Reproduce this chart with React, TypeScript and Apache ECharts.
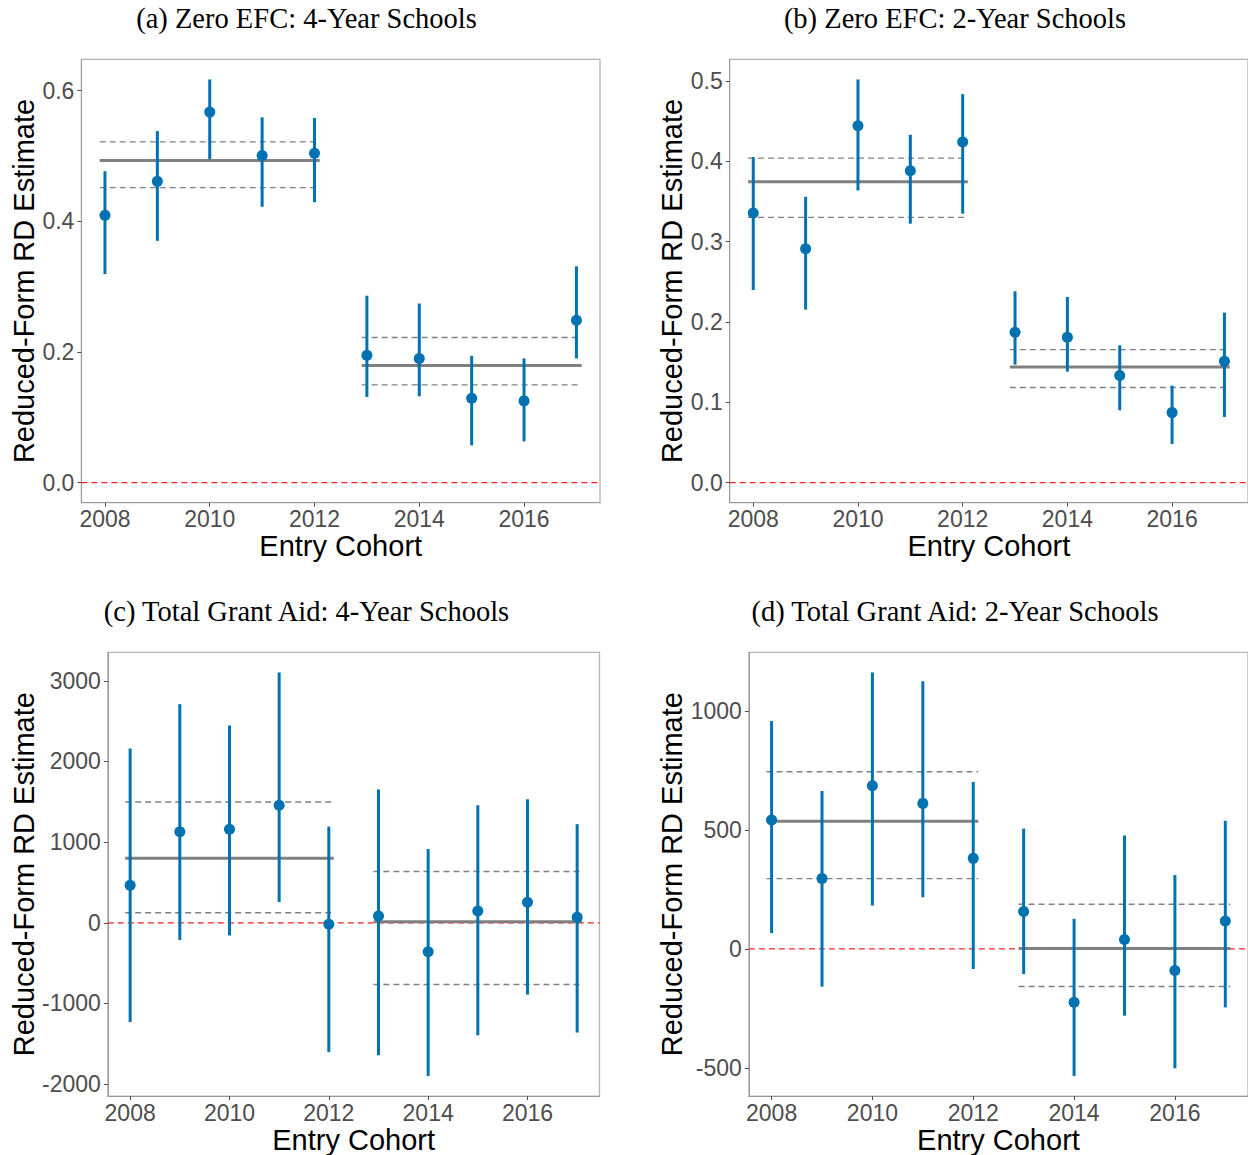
import React, { useEffect, useRef } from "react";
import * as echarts from "echarts";

const years = [2008, 2009, 2010, 2011, 2012, 2013, 2014, 2015, 2016, 2017];
const xTicks = [2008, 2010, 2012, 2014, 2016];
const segStart = [2007.9, 2012.9];
const segEnd = [2012.1, 2017.1];

const titles = [
  "(a) Zero EFC: 4-Year Schools",
  "(b) Zero EFC: 2-Year Schools",
  "(c) Total Grant Aid: 4-Year Schools",
  "(d) Total Grant Aid: 2-Year Schools",
];

// Panel (a)
const aEst = [0.409, 0.461, 0.567, 0.5005, 0.504, 0.195, 0.19, 0.129, 0.125, 0.2485];
const aLo = [0.319, 0.37, 0.495, 0.422, 0.429, 0.131, 0.132, 0.057, 0.063, 0.19];
const aHi = [0.4765, 0.538, 0.617, 0.559, 0.558, 0.286, 0.274, 0.194, 0.19, 0.331];
const aPool = [0.493, 0.179];
const aPoolLo = [0.4515, 0.1495];
const aPoolHi = [0.5214, 0.222];
const aTicks = [0, 0.2, 0.4, 0.6];

// Panel (b)
const bEst = [0.3357, 0.2913, 0.4444, 0.3884, 0.4241, 0.1871, 0.1809, 0.1332, 0.0871, 0.151];
const bLo = [0.2398, 0.2154, 0.3639, 0.3224, 0.3349, 0.1469, 0.1382, 0.09, 0.0481, 0.0817];
const bHi = [0.4054, 0.356, 0.5021, 0.4332, 0.4838, 0.2382, 0.2311, 0.171, 0.1207, 0.2116];
const bPool = [0.3747, 0.144];
const bPoolLo = [0.3303, 0.1183];
const bPoolHi = [0.4041, 0.1656];
const bTicks = [0, 0.1, 0.2, 0.3, 0.4, 0.5];

// Panel (c)
const cEst = [466, 1130, 1160, 1457, -17, 85, -360, 145, 256, 70];
const cLo = [-1230, -212, -157, 258, -1603, -1642, -1898, -1395, -890, -1360];
const cHi = [2162, 2710, 2445, 3103, 1193, 1653, 914, 1457, 1531, 1223];
const cPool = [801, 12];
const cPoolLo = [124, -764];
const cPoolHi = [1498, 636];
const cTicks = [-2000, -1000, 0, 1000, 2000, 3000];

// Panel (d)
const dEst = [541, 295, 685, 611, 380, 157, -224, 39, -91, 117];
const dLo = [66, -159, 182, 217, -85, -106, -534, -281, -502, -246];
const dHi = [957, 663, 1161, 1124, 701, 505, 126, 476, 310, 538];
const dPool = [536, 1];
const dPoolLo = [295, -158];
const dPoolHi = [744, 187];
const dTicks = [-500, 0, 500, 1000];

const BLUE = "#0072B2";
const XMIN = 2007.55;
const XMAX = 2017.45;

const panels = [
  { est: aEst, lo: aLo, hi: aHi, pool: aPool, pLo: aPoolLo, pHi: aPoolHi, ticks: aTicks, dec: 1,
    grid: { left: 81.4, top: 59.3, width: 518.6, height: 443.4 }, nameGap: 42, titleX: 306.5, titleY: 18 },
  { est: bEst, lo: bLo, hi: bHi, pool: bPool, pLo: bPoolLo, pHi: bPoolHi, ticks: bTicks, dec: 1,
    grid: { left: 729.7, top: 59.3, width: 519.6, height: 443.4 }, nameGap: 43, titleX: 955, titleY: 18 },
  { est: cEst, lo: cLo, hi: cHi, pool: cPool, pLo: cPoolLo, pHi: cPoolHi, ticks: cTicks, dec: 0,
    grid: { left: 107.8, top: 652.3, width: 491.7, height: 444.4 }, nameGap: 68, titleX: 306.5, titleY: 611 },
  { est: dEst, lo: dLo, hi: dHi, pool: dPool, pLo: dPoolLo, pHi: dPoolHi, ticks: dTicks, dec: 0,
    grid: { left: 748.9, top: 652.3, width: 501, height: 444.4 }, nameGap: 62, titleX: 955, titleY: 611 },
];

export default function App() {
  const ref = useRef<HTMLDivElement>(null);
  useEffect(() => {
    if (!ref.current) return;
    const chart = echarts.init(ref.current, null, { renderer: "svg" });
    const grids: any[] = [];
    const xAxes: any[] = [];
    const yAxes: any[] = [];
    const series: any[] = [];
    const graphics: any[] = [];

    panels.forEach((p, i) => {
      const ymin = Math.min(0, ...p.lo);
      const ymax = Math.max(0, ...p.hi);
      const pad = 0.05 * (ymax - ymin);
      grids.push({
        ...p.grid,
        show: true,
        borderColor: "#b3b3b3",
        borderWidth: 1.3,
        backgroundColor: "#ffffff",
        containLabel: false,
      });
      xAxes.push({
        type: "value",
        gridIndex: i,
        min: XMIN,
        max: XMAX,
        name: "Entry Cohort",
        nameLocation: "middle",
        nameGap: 28,
        nameTextStyle: { fontFamily: "Liberation Sans", fontSize: 29, color: "#000000" },
        splitLine: { show: false },
        axisLine: { show: true, onZero: false, lineStyle: { color: "#999999", width: 1 } },
        axisTick: { show: true, length: 4, customValues: xTicks, lineStyle: { color: "#4d4d4d" } },
        axisLabel: {
          customValues: xTicks,
          margin: 5,
          fontFamily: "Liberation Sans",
          fontSize: 23,
          color: "#4d4d4d",
          formatter: (v: number) => String(v),
        },
      });
      yAxes.push({
        type: "value",
        gridIndex: i,
        min: ymin - pad,
        max: ymax + pad,
        name: "Reduced-Form RD Estimate",
        nameLocation: "middle",
        nameGap: p.nameGap,
        nameTextStyle: { fontFamily: "Liberation Sans", fontSize: 29, color: "#000000" },
        splitLine: { show: false },
        axisLine: { show: true, onZero: false, lineStyle: { color: "#999999", width: 1 } },
        axisTick: { show: true, length: 4, customValues: p.ticks, lineStyle: { color: "#4d4d4d" } },
        axisLabel: {
          customValues: p.ticks,
          margin: 7,
          fontFamily: "Liberation Sans",
          fontSize: 23,
          color: "#4d4d4d",
          formatter: (v: number) => v.toFixed(p.dec),
        },
      });

      // red zero line
      series.push({
        type: "line",
        xAxisIndex: i,
        yAxisIndex: i,
        data: [[XMIN, 0], [XMAX, 0]],
        showSymbol: false,
        symbol: "none",
        lineStyle: { color: "#ff2020", width: 1.2, type: [6, 4] },
        z: 1,
        silent: true,
      });
      // pooled segments
      for (let k = 0; k < 2; k++) {
        series.push({
          type: "line",
          xAxisIndex: i,
          yAxisIndex: i,
          data: [[segStart[k], p.pool[k]], [segEnd[k], p.pool[k]]],
          symbol: "none",
          lineStyle: { color: "#808080", width: 3 },
          z: 2,
          silent: true,
        });
        [p.pLo[k], p.pHi[k]].forEach((v) => {
          series.push({
            type: "line",
            xAxisIndex: i,
            yAxisIndex: i,
            data: [[segStart[k], v], [segEnd[k], v]],
            symbol: "none",
            lineStyle: { color: "#808080", width: 1.4, type: [6, 4] },
            z: 2,
            silent: true,
          });
        });
      }
      // error bars
      series.push({
        type: "custom",
        xAxisIndex: i,
        yAxisIndex: i,
        data: years.map((y, j) => [y, p.lo[j], p.hi[j]]),
        encode: { x: 0, y: [1, 2] },
        renderItem: (_params: any, api: any) => {
          const x = api.value(0);
          const a = api.coord([x, api.value(1)]);
          const b = api.coord([x, api.value(2)]);
          return {
            type: "line",
            shape: { x1: a[0], y1: a[1], x2: b[0], y2: b[1] },
            style: { stroke: BLUE, lineWidth: 3 },
          };
        },
        z: 3,
        silent: true,
      });
      // points
      series.push({
        type: "scatter",
        xAxisIndex: i,
        yAxisIndex: i,
        data: years.map((y, j) => [y, p.est[j]]),
        symbol: "circle",
        symbolSize: 11,
        itemStyle: { color: BLUE, opacity: 1 },
        z: 4,
        silent: true,
      });

      graphics.push({
        type: "text",
        x: p.titleX,
        y: p.titleY,
        style: {
          text: titles[i],
          fontFamily: "Liberation Serif",
          fontSize: 28.5,
          fill: "#000000",
          align: "center",
          verticalAlign: "middle",
        },
      });
    });

    chart.setOption({
      animation: false,
      backgroundColor: "#ffffff",
      grid: grids,
      xAxis: xAxes,
      yAxis: yAxes,
      series,
      graphic: graphics,
    });
    return () => chart.dispose();
  }, []);
  return (
    <div
      ref={ref}
      style={{ position: "absolute", left: 0, top: 0, width: 1248, height: 1155 }}
    />
  );
}
